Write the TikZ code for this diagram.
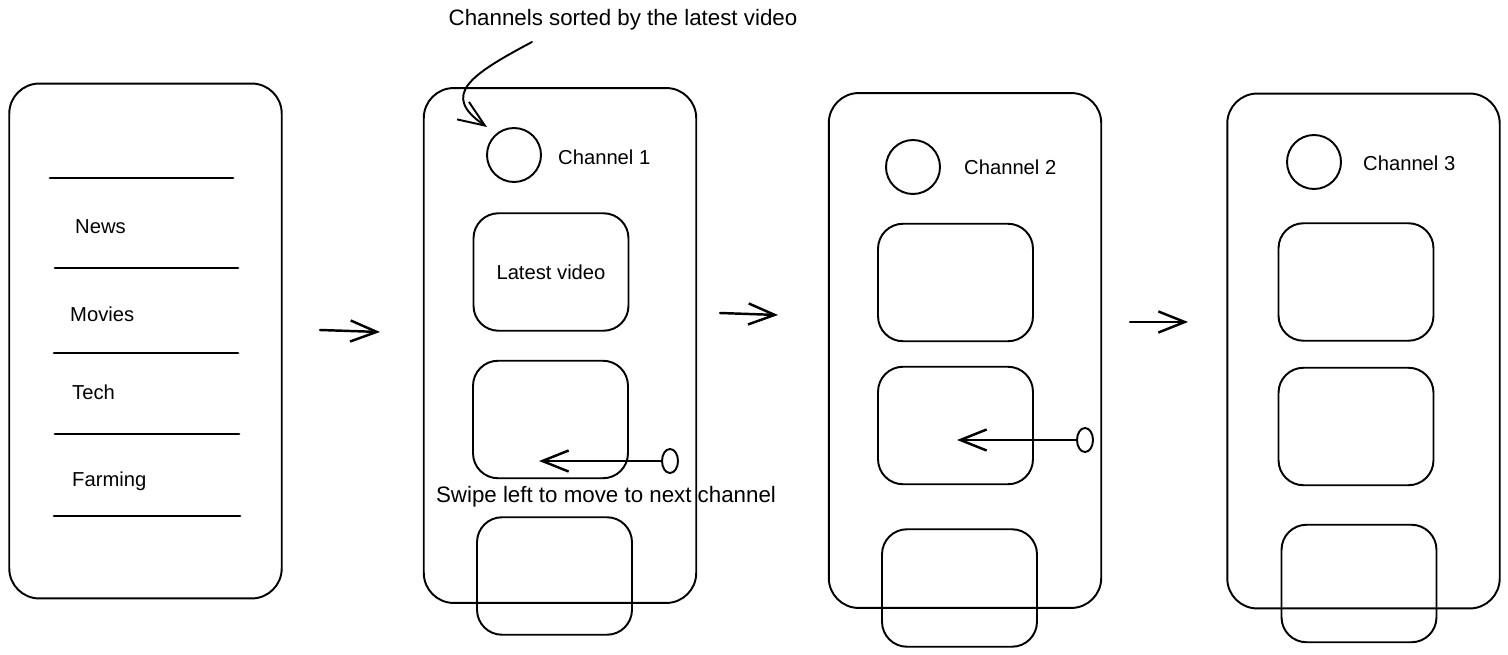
\documentclass[tikz,border=0pt]{standalone}
\usepackage{fontspec}
\setmainfont{Liberation Sans}
\usetikzlibrary{arrows.meta}
\usetikzlibrary{shapes.geometric}
\usetikzlibrary{positioning}

\begin{document}
\begin{tikzpicture}
	[x=0.02cm, y=-0.02cm,
	> = {Straight Barb[length=15pt,width=12pt]},
	every node/.style={font=\fontsize{11.5}{13}\selectfont},
	phone/.style = {draw, line width=1.1pt, rounded corners=0.6cm, minimum width=5.45cm, minimum height=10.3cm},
	thumb/.style = {draw, line width=1.1pt, rounded corners=0.5cm, minimum width=3.1cm, minimum height=2.35cm},
	avatar/.style = {draw, circle, line width=1.1pt, minimum size=1.08cm, inner sep=0pt},
	knob/.style = {draw, ellipse, line width=1.1pt, minimum width=0.32cm, minimum height=0.48cm, inner sep=0pt},
	note/.style = {font=\fontsize{12.7}{14}\selectfont},
	sep/.style = {line width=1.6pt, line cap=round},
	flow/.style = {->, line width=1.4pt, line cap=round}
	]
	\useasboundingbox (0,0) rectangle (1508,655);

	% category list
	\node[phone] (list) at (145.5,341) {};
	\foreach \y/\xa/\xb in {178/50/233, 268/55/238, 353/54/238, 434/55/239, 516/54/240}
		\draw[sep] (\xa,\y) -- (\xb,\y);
	\node[right] (news) at (69,227) {News};
	\node[right] (movies) at (64,314) {Movies};
	\node[right] (tech) at (66,392) {Tech};
	\node[right] (farming) at (66,481) {Farming};

	\coordinate (a1s) at (320,330);
	\coordinate (a1e) at (380,332);
	\draw[flow] (a1s) -- (a1e);

	% channel 1
	\node[phone] (ch1) at (560,345.5) {};
	\node[avatar] (av1) at (514,155) {};
	\node[right] (name1) at (552,157) {Channel 1};
	\node[thumb] (v11) at (551,272) {Latest video};
	\node[thumb] (v12) at (550.5,419.5) {};
	\node[thumb] (v13) at (554.5,576) {};
	\node[knob] (k1) at (670,461) {};
	\coordinate (k1tip) at (539,461);
	\draw[flow] (k1) -- (k1tip);
	\node[note] (swipe) at (606,497) {Swipe left to move to next channel};
	\node[note] (sorted) at (623,20) {Channels sorted by the latest video};
	\coordinate (sortedtail) at (532,42);
	\coordinate (sortedtip) at (487,127);
	\draw[->, line width=1.1pt, line cap=round] (sortedtail) .. controls (470,75) and (440,95) .. (sortedtip);

	\coordinate (a2s) at (720,313);
	\coordinate (a2e) at (778,315);
	\draw[flow] (a2s) -- (a2e);

	% channel 2
	\node[phone] (ch2) at (965,350.5) {};
	\node[avatar] (av2) at (913,167) {};
	\node[right] (name2) at (958,167) {Channel 2};
	\node[thumb] (v21) at (955.5,282.5) {};
	\node[thumb] (v22) at (955.5,425.5) {};
	\node[thumb] (v23) at (959.5,588) {};
	\node[knob] (k2) at (1085,440) {};
	\coordinate (k2tip) at (957,440);
	\draw[flow] (k2) -- (k2tip);

	\coordinate (a3s) at (1130,322);
	\coordinate (a3e) at (1188,322);
	\draw[flow] (a3s) -- (a3e);

	% channel 3
	\node[phone] (ch3) at (1363.5,351) {};
	\node[avatar] (av3) at (1314,162) {};
	\node[right] (name3) at (1357,163) {Channel 3};
	\node[thumb] (v31) at (1356,282) {};
	\node[thumb] (v32) at (1356,426.5) {};
	\node[thumb] (v33) at (1359,583.5) {};
\end{tikzpicture}
\end{document}
